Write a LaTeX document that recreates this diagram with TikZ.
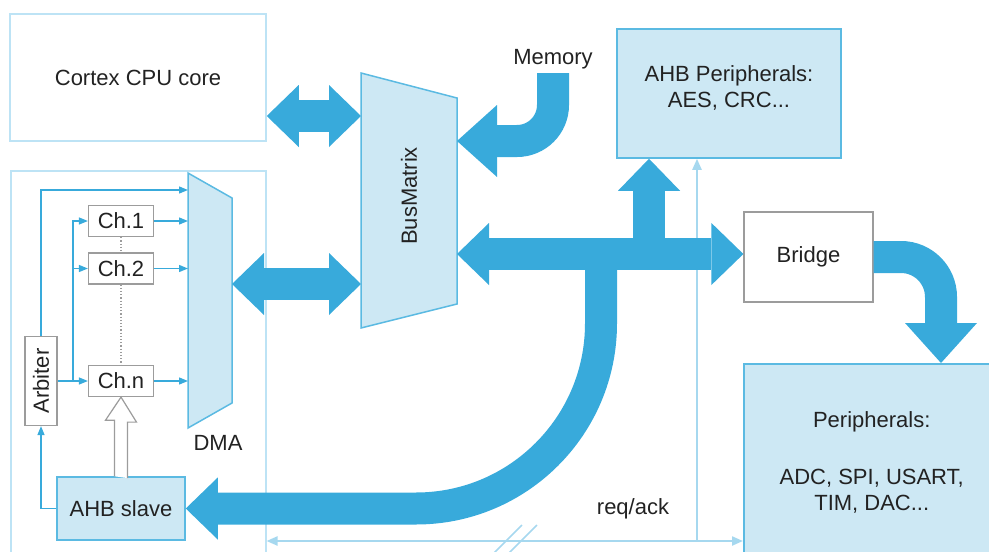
\documentclass[tikz,border=0pt]{standalone}
\usepackage{fontspec}
\setmainfont{Liberation Sans}
\usetikzlibrary{arrows.meta}
\definecolor{busblue}{HTML}{38AADB}
\definecolor{boxfill}{HTML}{CDE8F4}
\definecolor{boxline}{HTML}{5BBAE2}
\definecolor{framelight}{HTML}{BDE3F5}
\definecolor{reqblue}{HTML}{A6D8EF}
\definecolor{boxgray}{HTML}{9C9C9C}
\definecolor{textgray}{HTML}{222222}

\begin{document}
\begin{tikzpicture}[x=1pt, y=-1pt,
    every node/.style={font=\fontsize{22}{26}\selectfont, text=textgray},
    outerbox/.style={draw=framelight, line width=1.5pt},
    chbox/.style={draw=boxgray, fill=white, line width=1.2pt, minimum width=65, minimum height=31, inner sep=0pt},
    bluebox/.style={draw=boxline, fill=boxfill, line width=1.5pt, inner sep=0pt},
    trap/.style={draw=boxline, fill=boxfill, line width=1.5pt},
    bus/.style={draw=busblue, line width=32pt, >={Triangle[length=32pt, width=62pt, line width=0pt]}},
    bighead/.style={>={Triangle[length=40pt, width=72pt, line width=0pt]}},
    sig/.style={draw=busblue, line width=1.3pt, >={Triangle[length=9pt, width=7pt]}},
    req/.style={draw=reqblue, line width=2.2pt, >={Triangle[length=11pt, width=9pt]}},
    hollow/.style={draw=boxgray, fill=white, line width=1.2pt},
    dotline/.style={draw=boxgray, line width=1.2pt, dotted}]
    \clip (0,0) rectangle (989,552);

    % outer boxes
    \node[outerbox, minimum width=256, minimum height=127] (cpu) at (138,77.5) {Cortex CPU core};
    \node[outerbox, minimum width=255, minimum height=440, anchor=north west] (dmabox) at (10,170) {};

    % DMA and BusMatrix
    \draw[trap] (188,173) -- (232,198) -- (232,403) -- (188,428) -- cycle;
    \draw[trap] (361,73) -- (457,98) -- (457,304) -- (361,328) -- cycle;
    \node (dmalabel) at (218,443) {DMA};
    \node[rotate=90] (bmlabel) at (409,196) {BusMatrix};
    \coordinate (dma-top) at (188,190);
    \coordinate (dma-out) at (232,284);
    \coordinate (bm-cpu) at (361,116);
    \coordinate (bm-dma) at (361,284);
    \coordinate (bm-mem) at (457,141);
    \coordinate (bm-bus) at (457,254);

    % channels
    \node[chbox] (ch1) at (121,221) {Ch.1};
    \node[chbox] (ch2) at (121,268.5) {Ch.2};
    \node[chbox] (chn) at (121,381) {Ch.n};
    \node[chbox, minimum width=32, minimum height=89] (arb) at (41,381) {\rotatebox{90}{Arbiter}};
    \node[bluebox, minimum width=128, minimum height=63] (slave) at (121,508.5) {AHB slave};

    % right side
    \node[bluebox, minimum width=224, minimum height=129, align=center, text depth=14pt] (ahb) at (729,93.5) {AHB Peripherals:\\AES, CRC...};
    \node[chbox, minimum width=129, minimum height=90] (bridge) at (808.5,257) {Bridge};
    \node[bluebox, minimum width=256, minimum height=197, anchor=north west, align=center] (per) at (743,363) {Peripherals:\\[31pt]ADC, SPI, USART,\\TIM, DAC...};
    \node[anchor=south] (mem) at (553,73) {Memory};
    \node (reqlabel) at (633,509) {req/ack};

    % inside the DMA
    \coordinate (fork) at (73,381);
    \draw[sig,->] (arb.north) |- (dma-top);
    \draw[sig,->] (arb.east) -- (chn.west);
    \draw[sig,->] (fork) |- (ch1.west);
    \draw[sig,->] (fork |- ch2.west) -- (ch2.west);
    \draw[sig,->] (ch1.east) -- (ch1.east -| dma-top);
    \draw[sig,->] (ch2.east) -- (ch2.east -| dma-top);
    \draw[sig,->] (chn.east) -- (chn.east -| dma-top);
    \draw[sig,->] (slave.west) -| (arb.south);
    \draw[dotline] (ch1.south) -- (ch2.north) (ch2.south) -- (chn.north);
    \draw[hollow] (slave.north) ++(-6.5,0) -- ++(0,-56) -- ++(-9,0) -- (chn.south) -- ++(15.5,25) -- ++(-9,0) -- ++(0,56);

    % req/ack
    \coordinate (reqtap) at (697,541);
    \draw[req,<->] (dmabox.east |- reqtap) -- (per.west |- reqtap);
    \draw[req,->] (reqtap) -- (reqtap |- ahb.south);
    \draw[req, line width=1.5pt] (522,525) -- (493,554) (537,525) -- (508,554);

    % buses
    \coordinate (tap1) at (649,254);
    \coordinate (tap2) at (601,254);
    \coordinate (per-in) at (941,363);
    \draw[bus,<->] (bm-cpu -| cpu.east) -- (bm-cpu);
    \draw[bus,<->] (dma-out) -- (bm-dma);
    \draw[bus,bighead,->,rounded corners=36] (mem.south) |- (bm-mem);
    \draw[bus,<->] (bm-bus) -- (bm-bus -| bridge.west);
    \draw[bus,->] (tap1) -- (tap1 |- ahb.south);
    \draw[bus,->,rounded corners=185] (tap2) |- (slave.east);
    \draw[bus,bighead,->,rounded corners=40] (bridge.east) -| (per-in);
\end{tikzpicture}
\end{document}
